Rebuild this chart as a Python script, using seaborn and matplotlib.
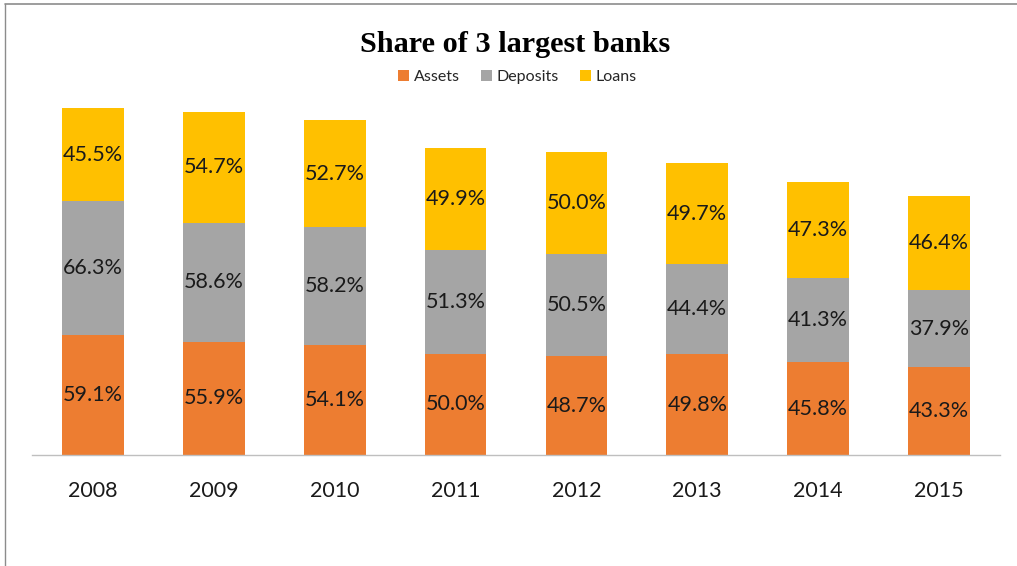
import numpy as np
import pandas as pd
import matplotlib
matplotlib.use("Agg")
import matplotlib.pyplot as plt
from matplotlib.lines import Line2D
from matplotlib.patches import Patch
import seaborn as sns

years = ["2008", "2009", "2010", "2011", "2012", "2013", "2014", "2015"]
assets = [59.1, 55.9, 54.1, 50.0, 48.7, 49.8, 45.8, 43.3]
deposits = [66.3, 58.6, 58.2, 51.3, 50.5, 44.4, 41.3, 37.9]
loans = [45.5, 54.7, 52.7, 49.9, 50.0, 49.7, 47.3, 46.4]
series_names = ["Assets", "Deposits", "Loans"]
colors = ["#ED7D31", "#A5A5A5", "#FFC000"]

sns.set_theme(style="white")
plt.rcParams["font.family"] = ["Lato", "DejaVu Sans"]

fig = plt.figure(figsize=(10.17, 5.66), dpi=100)
ax = fig.add_axes([32 / 1017, 1 - 455 / 566, 968 / 1017, 365 / 566])

df = pd.DataFrame({"year": years, "Assets": assets, "Deposits": deposits, "Loans": loans})
bottom = np.zeros(len(years))
for name, col in zip(series_names, colors):
    vals = df[name].to_numpy()
    sns.barplot(data=df, x="year", y=name, color=col, bottom=bottom, width=0.51,
                saturation=1, ax=ax, edgecolor="none", linewidth=0)
    for i, v in enumerate(vals):
        ax.text(i, bottom[i] + v / 2, f"{v:.1f}%", ha="center", va="center",
                fontsize=15.5, color="#1a1a1a")
    bottom = bottom + vals

ax.set_xlim(-0.505, 7.505)
ax.set_ylim(0, 180)
ax.set_xlabel("")
ax.set_ylabel("")
ax.set_yticks([])
for side in ["top", "right", "left"]:
    ax.spines[side].set_visible(False)
ax.spines["bottom"].set_color("#bfbfbf")
ax.spines["bottom"].set_linewidth(1.0)
ax.tick_params(axis="x", length=0, pad=19, labelsize=15.5, colors="#1a1a1a")

fig.text(0.507, 1 - 44 / 566, "Share of 3 largest banks", ha="center", va="center",
         fontsize=21.8, fontweight="bold", family="Liberation Serif", color="black")

handles = [Patch(facecolor=c, edgecolor="none", label=n) for n, c in zip(series_names, colors)]
fig.legend(handles=handles, loc="center", bbox_to_anchor=(0.509, 1 - 77 / 566), ncol=3,
           frameon=False, fontsize=11.5, handlelength=0.7, handleheight=0.7,
           handletextpad=0.3, columnspacing=1.3)

# outer frame
fig.add_artist(Line2D([5 / 1017, 1], [1 - 4 / 566, 1 - 4 / 566], color="#8c8c8c", lw=1.2,
                      transform=fig.transFigure))
fig.add_artist(Line2D([5 / 1017, 5 / 1017], [0, 1 - 4 / 566], color="#8c8c8c", lw=1.0,
                      transform=fig.transFigure))

fig.savefig("out.png", dpi=100)
